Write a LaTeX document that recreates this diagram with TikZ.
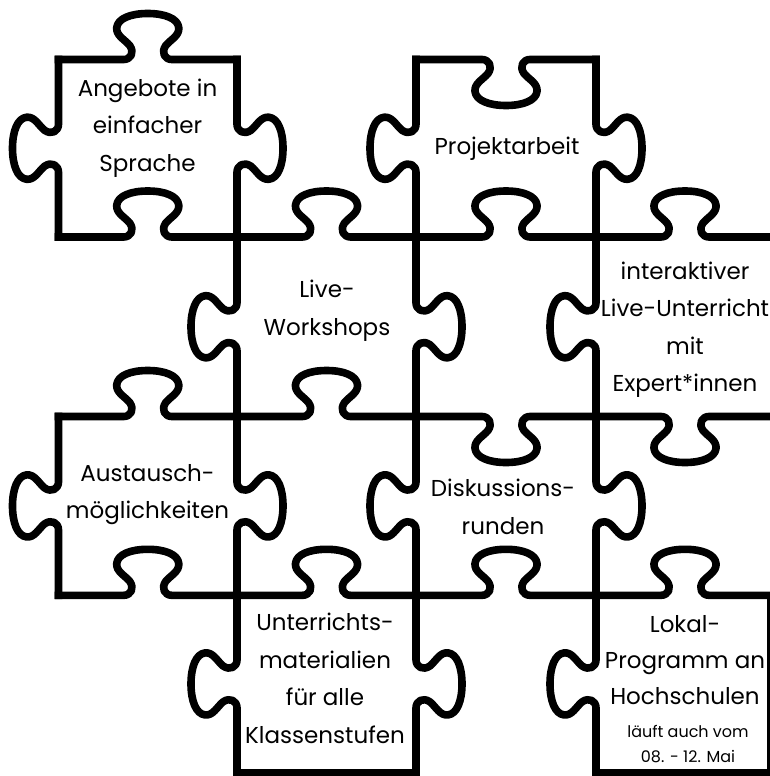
\documentclass[tikz,border=0pt]{standalone}
\usepackage{fontspec}
\setmainfont{Poppins}
% one jigsaw edge with a tab, in local coordinates (x along the edge, y towards the bulb)
\newcommand\pzshape[1]{\draw[edge] (-#1,0) -- (-24,0) .. controls (-17,0) and (-13,7) .. (-18,14) .. controls (-23,20) and (-32,24) .. (-31,32) .. controls (-30,41) and (-17,46) .. (0,46) .. controls (17,46) and (30,41) .. (31,32) .. controls (32,24) and (23,20) .. (18,14) .. controls (13,7) and (17,0) .. (24,0) -- (#1,0);}
% horizontal edge: centre x, centre y, half length, +1 bulb up / -1 bulb down
\newcommand\pzH[4]{\begin{scope}[shift={(#1,#2)},x={(1pt,0pt)},y={(0pt,#4pt)}]\pzshape{#3}\end{scope}}
% vertical edge: centre x, centre y, half length, +1 bulb right / -1 bulb left
\newcommand\pzV[4]{\begin{scope}[shift={(#1,#2)},x={(0pt,1pt)},y={(#4pt,0pt)}]\pzshape{#3}\end{scope}}
\begin{document}
\begin{tikzpicture}[x=1pt,y=-1pt,
  edge/.style={line width=7.6pt, line cap=rect, line join=round, black},
  ptext/.style={align=center, inner sep=0pt, font=\fontsize{23}{37.5}\selectfont},
  note/.style={align=center, inner sep=0pt, font=\fontsize{16}{25}\selectfont}]
\useasboundingbox (0,0) rectangle (770,776);
\fill[white] (0,0) rectangle (770,776);
\clip (0,0) rectangle (770,776);
% horizontal edges
\pzH{147.75}{59.5}{89.25}{1}
\pzH{506}{59.5}{90}{-1}
\pzH{147.75}{237}{89.25}{1}
\pzH{326.5}{237}{89.5}{1}
\pzH{506}{237}{90}{1}
\pzH{685}{237}{89}{1}
\pzH{147.75}{416.5}{89.25}{1}
\pzH{326.5}{416.5}{89.5}{1}
\pzH{506}{416.5}{90}{-1}
\pzH{685}{416.5}{89}{-1}
\pzH{147.75}{595.3}{89.25}{1}
\pzH{326.5}{595.3}{89.5}{1}
\pzH{506}{595.3}{90}{1}
\pzH{685}{595.3}{89}{1}
\draw[edge] (237,772.5) -- (416,772.5);
\draw[edge] (596,772.5) -- (774,772.5);
% vertical edges
\pzV{58.5}{148.25}{88.75}{-1}
\pzV{58.5}{505.9}{89.4}{-1}
\pzV{237}{148.25}{88.75}{1}
\pzV{237}{326.75}{89.75}{-1}
\pzV{237}{505.9}{89.4}{1}
\pzV{237}{683.9}{88.6}{-1}
\pzV{416}{148.25}{88.75}{-1}
\pzV{416}{326.75}{89.75}{1}
\pzV{416}{505.9}{89.4}{-1}
\pzV{416}{683.9}{88.6}{1}
\pzV{596}{148.25}{88.75}{1}
\pzV{596}{326.75}{89.75}{-1}
\pzV{596}{505.9}{89.4}{1}
\pzV{596}{683.9}{88.6}{-1}
\draw[edge] (770.5,595.3) -- (770.5,772.5);
% texts
\node[ptext] (angebote) at (147.5,128) {Angebote in\\einfacher\\Sprache};
\node[ptext] (projekt) at (507,149) {Projektarbeit};
\node[ptext] (live) at (327,310.5) {Live-\\Workshops};
\node[ptext] (inter) at (685,329.5) {interaktiver\\Live-Unterricht\\mit\\Expert*innen};
\node[ptext] (austausch) at (147.5,494.5) {Austausch-\\möglichkeiten};
\node[ptext] (disk) at (503,507) {Diskussions-\\runden};
\node[ptext] (unterricht) at (325,678.5) {Unterrichts-\\materialien\\für alle\\Klassenstufen};
\node[ptext, font=\fontsize{23}{36}\selectfont] (lokal) at (685,660.5) {Lokal-\\Programm an\\Hochschulen};
\node[note] (lokalnote) at (688,744.5) {läuft auch vom\\08. - 12. Mai};
\end{tikzpicture}
\end{document}
